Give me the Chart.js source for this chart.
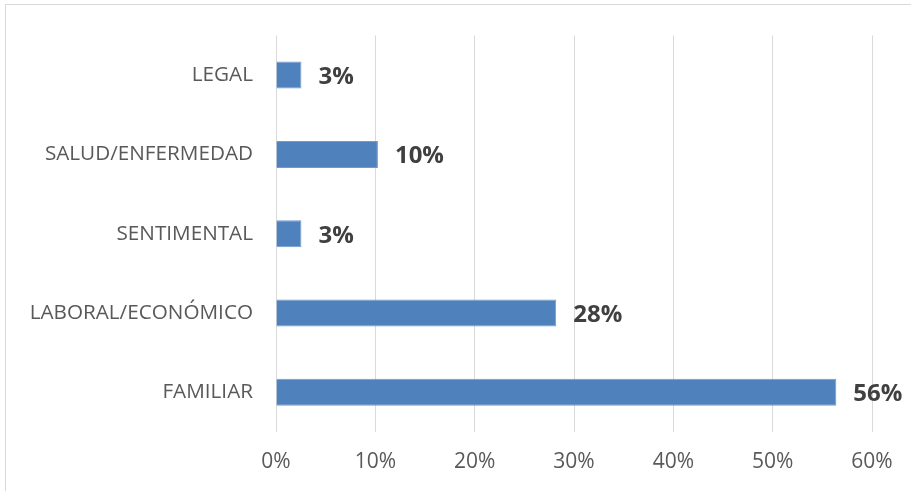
<!DOCTYPE html>
<html>
<head>
<meta charset="utf-8">
<script src="https://cdn.jsdelivr.net/npm/chart.js@4/dist/chart.umd.min.js"></script>
<style>
  html, body { margin: 0; padding: 0; overflow: hidden; background: #fff; }
  #frame { position: absolute; left: 5px; top: 4px; width: 940px; height: 520px; border: 1px solid #d9d9d9; }
  #wrap { position: absolute; left: 0; top: 0; width: 911px; height: 491px; }
</style>
</head>
<body>
<div id="frame"></div>
<div id="wrap"><canvas id="chart" width="911" height="491"></canvas></div>
<script>
//? categories top to bottom
const categorias = ['LEGAL', 'SALUD/ENFERMEDAD', 'SENTIMENTAL', 'LABORAL/ECONÓMICO', 'FAMILIAR']
//? share of answers (%)
const porcentajes = [2.56, 10.26, 2.56, 28.21, 56.41]
//? x axis ticks
const ticksX = [0, 10, 20, 30, 40, 50, 60]

const fuente = "'Open Sans', sans-serif"

// value labels to the right of each bar
const etiquetas = {
  id: 'etiquetas',
  afterDatasetsDraw(chart) {
    const ctx = chart.ctx
    const meta = chart.getDatasetMeta(0)
    ctx.save()
    ctx.font = `bold 24px ${fuente}`
    ctx.fillStyle = '#404040'
    ctx.textAlign = 'left'
    ctx.textBaseline = 'middle'
    meta.data.forEach((bar, i) => {
      ctx.fillText(Math.round(porcentajes[i]) + '%', bar.x + 17, bar.y + 2)
    })
    ctx.restore()
  }
}

let ctx = document.getElementById('chart').getContext('2d')
chart = new Chart(ctx, {
  type: 'bar',
  data: {
    labels: categorias,
    datasets: [
      {
        data: porcentajes,
        backgroundColor: '#4f81bd',
        borderColor: '#6f9ad0',
        borderWidth: 1,
        barPercentage: 0.34,
        categoryPercentage: 1
      }
    ]
  },
  options: {
    indexAxis: 'y',
    responsive: false,
    animation: false,
    layout: { padding: { top: 31, right: 39, left: 0, bottom: 0 } },
    plugins: { legend: { display: false }, tooltip: { enabled: false } },
    scales: {
      x: {
        min: 0,
        max: 60,
        afterBuildTicks: (scale) => { scale.ticks = ticksX.map(v => ({ value: v })) },
        afterFit: (scale) => { scale.height = 59 },
        grid: { color: '#d9d9d9', lineWidth: 1, drawTicks: false },
        border: { display: false },
        ticks: {
          padding: 17,
          color: '#595959',
          font: { family: fuente, size: 21 },
          callback: (v) => v + '%'
        }
      },
      y: {
        afterFit: (scale) => { scale.width = 276 },
        grid: { display: false, drawTicks: false },
        border: { display: false },
        ticks: {
          padding: 23,
          color: '#595959',
          font: { family: fuente, size: 20.7 }
        }
      }
    }
  },
  plugins: [etiquetas]
})
</script>
</body>
</html>
